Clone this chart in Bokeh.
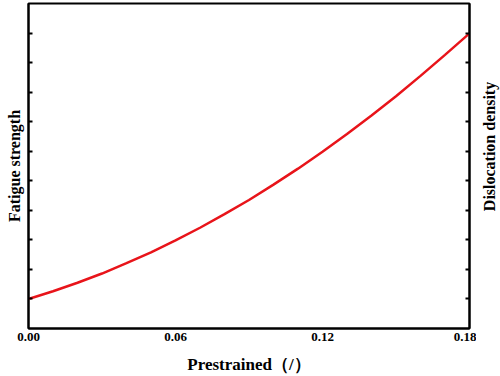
import math
from bokeh.plotting import figure
from bokeh.models import LinearAxis, FixedTicker, Range1d
from bokeh.layouts import row
from bokeh.core.properties import value
from bokeh.embed import file_html
from bokeh.resources import INLINE

prestrain = [0.00, 0.01, 0.02, 0.03, 0.04, 0.05, 0.06, 0.07, 0.08, 0.09,
             0.10, 0.11, 0.12, 0.13, 0.14, 0.15, 0.16, 0.17, 0.18]
strength = [1.00, 1.26, 1.55, 1.86, 2.21, 2.58, 2.98, 3.41, 3.87, 4.35,
            4.87, 5.41, 5.98, 6.58, 7.21, 7.86, 8.55, 9.26, 9.99]
x_ticks = [0.00, 0.06, 0.12, 0.18]
x_tick_labels = ["0.00", "0.06", "0.12", "0.18"]
y_ticks = [1, 2, 3, 4, 5, 6, 7, 8, 9, 10]
left_title = "Fatigue strength"
right_title = "Dislocation density"
x_title = "Prestrained\uff08/\uff09"

FONT = "Liberation Serif"

p = figure(width=476, height=376, output_backend="svg", toolbar_location=None,
           x_range=Range1d(0, 0.18), y_range=Range1d(0, 11),
           min_border_left=28, min_border_right=7, min_border_top=3,
           min_border_bottom=47, background_fill_color="white",
           border_fill_color="white")
p.grid.visible = False
p.outline_line_color = "black"
p.outline_line_width = 2

p.line(prestrain, strength, line_color="#e8141a", line_width=2.5)

# bottom axis
xa = p.xaxis[0]
xa.ticker = FixedTicker(ticks=x_ticks)
xa.major_label_overrides = {t: l for t, l in zip(x_ticks, x_tick_labels)}
xa.major_tick_in = 0
xa.major_tick_out = 0
xa.minor_tick_in = 0
xa.minor_tick_out = 0
xa.axis_line_width = 2
xa.axis_line_color = "black"
xa.major_label_text_font = FONT
xa.major_label_text_font_style = "bold"
xa.major_label_text_font_size = "13px"
xa.major_label_text_color = "black"
xa.major_label_standoff = 4
xa.axis_label = x_title
xa.axis_label_text_font = FONT
xa.axis_label_text_font_style = "bold"
xa.axis_label_text_font_size = "17px"
xa.axis_label_text_color = "black"
xa.axis_label_standoff = 11


def side_axis(ax):
    ax.ticker = FixedTicker(ticks=y_ticks)
    ax.major_tick_in = 4
    ax.major_tick_out = 0
    ax.minor_tick_in = 0
    ax.minor_tick_out = 0
    ax.major_tick_line_width = 2
    ax.axis_line_width = 2
    ax.major_label_overrides = {t: "" for t in y_ticks}
    ax.major_label_standoff = 0


ya = p.yaxis[0]
side_axis(ya)
ya.axis_label = left_title
ya.axis_label_text_font = FONT
ya.axis_label_text_font_style = "bold"
ya.axis_label_text_font_size = "16px"
ya.axis_label_text_color = "black"
ya.axis_label_standoff = 6

ra = LinearAxis()
side_axis(ra)
p.add_layout(ra, "right")

# narrow strip on the right carrying the right-hand axis title
p2 = figure(width=24, height=376, output_backend="svg", toolbar_location=None,
            x_range=Range1d(0, 1), y_range=Range1d(0, 1),
            min_border=0, min_border_left=0, min_border_right=0,
            min_border_top=0, min_border_bottom=0,
            background_fill_color="white", border_fill_color="white")
p2.axis.visible = False
p2.grid.visible = False
p2.outline_line_color = None
p2.text(x=[0.56], y=[0.56], text=[right_title], angle=math.pi / 2,
        text_align="center", text_baseline="middle",
        text_font=value(FONT), text_font_style="bold",
        text_font_size="16px", text_color="black")

layout = row(p, p2, spacing=0)
open("out.html", "w").write(file_html(layout, INLINE))
